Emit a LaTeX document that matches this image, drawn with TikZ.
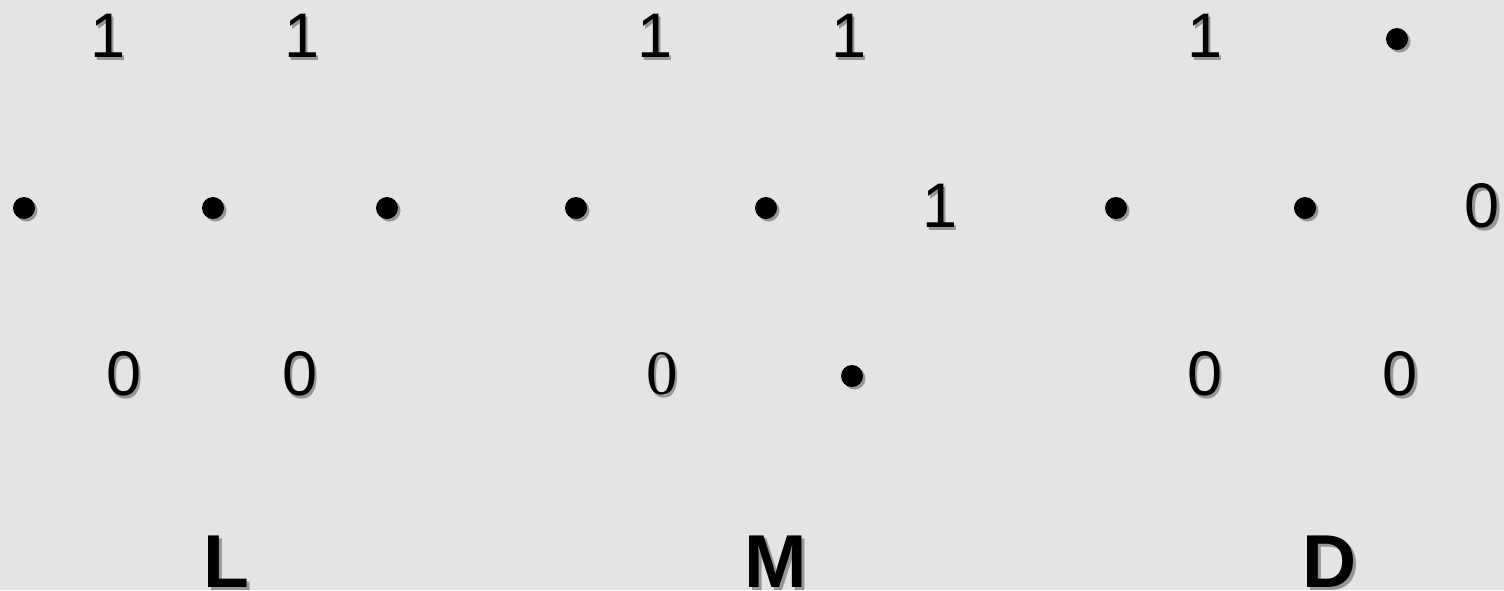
\documentclass[tikz,border=0pt]{standalone}
\usepackage{fontspec}
\setmainfont{Liberation Sans}
\newfontfamily\serifdigit{Liberation Serif}
\definecolor{bgc}{RGB}{228,228,228}
\definecolor{shc}{RGB}{150,150,150}
\tikzset{
  txt/.style={inner sep=0pt, font=\fontsize{63}{63}\selectfont, text=black},
  big/.style={inner sep=0pt, font=\fontsize{75}{75}\selectfont\bfseries, text=black},
  shd/.style={text=shc},
  dotc/.style={circle, fill=black, minimum size=22pt, inner sep=0pt},
  dotsh/.style={circle, fill=shc, minimum size=22pt, inner sep=0pt},
}
\begin{document}
\begin{tikzpicture}[x=1pt,y=-1pt]
\fill[bgc] (0,0) rectangle (1504,590);
\useasboundingbox (0,0) rectangle (1504,590);
% text labels: name/x/y/text
\foreach \n/\x/\y/\t in {a1/108/36/1, a2/302/36/1, a3/655/36/1, a4/849/36/1, a5/1205/36/1,
  b1/940/206/1, b2/1482/206/0,
  c1/124/374/0, c2/300/374/0, c5/1205/374/0, c6/1400/374/0}{
  \node[txt,shd] at (\x+2.5,\y+2.5) {\t};
  \node[txt] (\n) at (\x,\y) {\t};
}
% serif zero
\node[txt,shd,font=\fontsize{63}{63}\selectfont\serifdigit] at (664.5,376.5) {0};
\node[txt,font=\fontsize{63}{63}\selectfont\serifdigit] (c3) at (662,374) {0};
% dots
\foreach \n/\x/\y in {d1/1397/39, e1/24/208, e2/213/208, e3/387/208, e4/576/208, e5/766/208,
  e6/1116/208, e7/1305/208, f1/852/376}{
  \node[dotsh] at (\x+2.5,\y+2.5) {};
  \node[dotc] (\n) at (\x,\y) {};
}
% letters
\foreach \n/\x/\t in {L/226/L, M/776/M, D/1330/D}{
  \node[big,shd] at (\x+3,565) {\t};
  \node[big] (\n) at (\x,562) {\t};
}
\end{tikzpicture}
\end{document}
